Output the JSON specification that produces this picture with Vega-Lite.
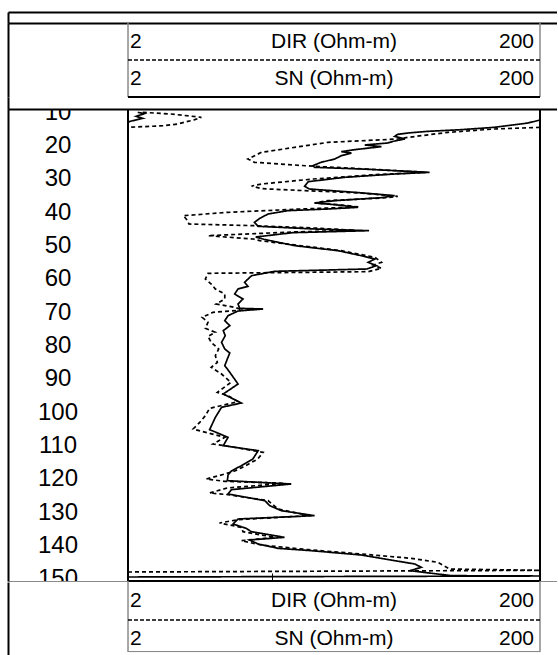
{
  "$schema": "https://vega.github.io/schema/vega-lite/v6.json",
  "padding": {"left": 8, "top": 12, "right": 0, "bottom": 0},
  "spacing": 0,
  "bounds": "flush",
  "config": {
    "view": {"stroke": null},
    "font": "Liberation Sans",
    "concat": {"spacing": 0},
    "point": {"size": 0, "opacity": 0},
    "axis": {"labels": false, "ticks": false, "grid": false, "domainColor": "black", "domainWidth": 2, "minExtent": 0, "maxExtent": 0}
  },
  "datasets": {
    "hdr": [
      {"curve": "DIR", "title": "DIR (Ohm-m)", "min": 2, "max": 200},
      {"curve": "SN", "title": "SN (Ohm-m)", "min": 2, "max": 200}
    ],
    "depths": [
      {"depth": 10}, {"depth": 20}, {"depth": 30}, {"depth": 40}, {"depth": 50},
      {"depth": 60}, {"depth": 70}, {"depth": 80}, {"depth": 90}, {"depth": 100},
      {"depth": 110}, {"depth": 120}, {"depth": 130}, {"depth": 140}, {"depth": 150}
    ],
    "logs": [
      {"curve": "DIR", "seg": "DIR-a", "depth": 9.9, "res": 2.23},
      {"curve": "DIR", "seg": "DIR-a", "depth": 10.3, "res": 2.4},
      {"curve": "DIR", "seg": "DIR-a", "depth": 11.1, "res": 2.19},
      {"curve": "DIR", "seg": "DIR-a", "depth": 11.7, "res": 2.36},
      {"curve": "DIR", "seg": "DIR-a", "depth": 12.5, "res": 2.08},
      {"curve": "DIR", "seg": "DIR-a", "depth": 12.8, "res": 1.82},
      {"curve": "DIR", "seg": "DIR-b", "depth": 12.2, "res": 219},
      {"curve": "DIR", "seg": "DIR-b", "depth": 13.1, "res": 175},
      {"curve": "DIR", "seg": "DIR-b", "depth": 14.4, "res": 120},
      {"curve": "DIR", "seg": "DIR-b", "depth": 15.1, "res": 83},
      {"curve": "DIR", "seg": "DIR-b", "depth": 15.6, "res": 57},
      {"curve": "DIR", "seg": "DIR-b", "depth": 16.1, "res": 45.8},
      {"curve": "DIR", "seg": "DIR-b", "depth": 16.5, "res": 40.8},
      {"curve": "DIR", "seg": "DIR-b", "depth": 17.1, "res": 39.4},
      {"curve": "DIR", "seg": "DIR-b", "depth": 17.9, "res": 44.2},
      {"curve": "DIR", "seg": "DIR-b", "depth": 18.5, "res": 39.4},
      {"curve": "DIR", "seg": "DIR-b", "depth": 19.1, "res": 36.4},
      {"curve": "DIR", "seg": "DIR-b", "depth": 19.7, "res": 28.2},
      {"curve": "DIR", "seg": "DIR-b", "depth": 20.2, "res": 34},
      {"curve": "DIR", "seg": "DIR-b", "depth": 21.1, "res": 25.2},
      {"curve": "DIR", "seg": "DIR-b", "depth": 21.7, "res": 21.7},
      {"curve": "DIR", "seg": "DIR-b", "depth": 22.1, "res": 24.3},
      {"curve": "DIR", "seg": "DIR-b", "depth": 22.9, "res": 21.7},
      {"curve": "DIR", "seg": "DIR-b", "depth": 23.9, "res": 20.2},
      {"curve": "DIR", "seg": "DIR-b", "depth": 24.9, "res": 17.3},
      {"curve": "DIR", "seg": "DIR-b", "depth": 25.9, "res": 15.8},
      {"curve": "DIR", "seg": "DIR-b", "depth": 26.4, "res": 16.1},
      {"curve": "DIR", "seg": "DIR-b", "depth": 26.9, "res": 27.1},
      {"curve": "DIR", "seg": "DIR-b", "depth": 27.9, "res": 58.2},
      {"curve": "DIR", "seg": "DIR-b", "depth": 28.4, "res": 39.4},
      {"curve": "DIR", "seg": "DIR-b", "depth": 29.4, "res": 22.5},
      {"curve": "DIR", "seg": "DIR-b", "depth": 30.7, "res": 15},
      {"curve": "DIR", "seg": "DIR-b", "depth": 32.1, "res": 14.4},
      {"curve": "DIR", "seg": "DIR-b", "depth": 32.9, "res": 15.2},
      {"curve": "DIR", "seg": "DIR-b", "depth": 33.9, "res": 25.2},
      {"curve": "DIR", "seg": "DIR-b", "depth": 34.9, "res": 39.4},
      {"curve": "DIR", "seg": "DIR-b", "depth": 35.5, "res": 34},
      {"curve": "DIR", "seg": "DIR-b", "depth": 36.4, "res": 20.2},
      {"curve": "DIR", "seg": "DIR-b", "depth": 37.1, "res": 16.1},
      {"curve": "DIR", "seg": "DIR-b", "depth": 37.6, "res": 20.2},
      {"curve": "DIR", "seg": "DIR-b", "depth": 38.4, "res": 26.1},
      {"curve": "DIR", "seg": "DIR-b", "depth": 38.9, "res": 18.7},
      {"curve": "DIR", "seg": "DIR-b", "depth": 39.4, "res": 11.9},
      {"curve": "DIR", "seg": "DIR-b", "depth": 40.4, "res": 9.57},
      {"curve": "DIR", "seg": "DIR-b", "depth": 41.7, "res": 8.73},
      {"curve": "DIR", "seg": "DIR-b", "depth": 42.9, "res": 8.22},
      {"curve": "DIR", "seg": "DIR-b", "depth": 44.1, "res": 8.57},
      {"curve": "DIR", "seg": "DIR-b", "depth": 44.9, "res": 16.1},
      {"curve": "DIR", "seg": "DIR-b", "depth": 45.4, "res": 29.6},
      {"curve": "DIR", "seg": "DIR-b", "depth": 46.0, "res": 12.6},
      {"curve": "DIR", "seg": "DIR-b", "depth": 47.3, "res": 8.34},
      {"curve": "DIR", "seg": "DIR-b", "depth": 48.0, "res": 9.14},
      {"curve": "DIR", "seg": "DIR-b", "depth": 49.9, "res": 12.9},
      {"curve": "DIR", "seg": "DIR-b", "depth": 51.4, "res": 20.9},
      {"curve": "DIR", "seg": "DIR-b", "depth": 52.9, "res": 27.1},
      {"curve": "DIR", "seg": "DIR-b", "depth": 53.9, "res": 31.6},
      {"curve": "DIR", "seg": "DIR-b", "depth": 54.9, "res": 29.3},
      {"curve": "DIR", "seg": "DIR-b", "depth": 55.9, "res": 32.1},
      {"curve": "DIR", "seg": "DIR-b", "depth": 56.9, "res": 28.9},
      {"curve": "DIR", "seg": "DIR-b", "depth": 57.6, "res": 10.3},
      {"curve": "DIR", "seg": "DIR-b", "depth": 58.9, "res": 7.96},
      {"curve": "DIR", "seg": "DIR-b", "depth": 60.9, "res": 7.36},
      {"curve": "DIR", "seg": "DIR-b", "depth": 62.1, "res": 7.64},
      {"curve": "DIR", "seg": "DIR-b", "depth": 62.9, "res": 6.84},
      {"curve": "DIR", "seg": "DIR-b", "depth": 64.4, "res": 6.59},
      {"curve": "DIR", "seg": "DIR-b", "depth": 65.9, "res": 7.23},
      {"curve": "DIR", "seg": "DIR-b", "depth": 67.4, "res": 6.84},
      {"curve": "DIR", "seg": "DIR-b", "depth": 68.7, "res": 6.97},
      {"curve": "DIR", "seg": "DIR-b", "depth": 68.9, "res": 9.06},
      {"curve": "DIR", "seg": "DIR-b", "depth": 69.5, "res": 6.84},
      {"curve": "DIR", "seg": "DIR-b", "depth": 70.9, "res": 6.12},
      {"curve": "DIR", "seg": "DIR-b", "depth": 72.4, "res": 5.9},
      {"curve": "DIR", "seg": "DIR-b", "depth": 73.9, "res": 6.24},
      {"curve": "DIR", "seg": "DIR-b", "depth": 75.4, "res": 5.8},
      {"curve": "DIR", "seg": "DIR-b", "depth": 76.9, "res": 5.93},
      {"curve": "DIR", "seg": "DIR-b", "depth": 78.9, "res": 5.69},
      {"curve": "DIR", "seg": "DIR-b", "depth": 80.9, "res": 5.9},
      {"curve": "DIR", "seg": "DIR-b", "depth": 82.1, "res": 6.24},
      {"curve": "DIR", "seg": "DIR-b", "depth": 83.9, "res": 6.07},
      {"curve": "DIR", "seg": "DIR-b", "depth": 85.9, "res": 5.9},
      {"curve": "DIR", "seg": "DIR-b", "depth": 87.9, "res": 6.24},
      {"curve": "DIR", "seg": "DIR-b", "depth": 91.4, "res": 6.84},
      {"curve": "DIR", "seg": "DIR-b", "depth": 94.4, "res": 5.8},
      {"curve": "DIR", "seg": "DIR-b", "depth": 97.1, "res": 7.1},
      {"curve": "DIR", "seg": "DIR-b", "depth": 98.4, "res": 5.69},
      {"curve": "DIR", "seg": "DIR-b", "depth": 101.4, "res": 5.31},
      {"curve": "DIR", "seg": "DIR-b", "depth": 105.1, "res": 4.98},
      {"curve": "DIR", "seg": "DIR-b", "depth": 107.4, "res": 6.12},
      {"curve": "DIR", "seg": "DIR-b", "depth": 109.9, "res": 5.8},
      {"curve": "DIR", "seg": "DIR-b", "depth": 111.4, "res": 8.57},
      {"curve": "DIR", "seg": "DIR-b", "depth": 113.9, "res": 8.07},
      {"curve": "DIR", "seg": "DIR-b", "depth": 115.9, "res": 7.1},
      {"curve": "DIR", "seg": "DIR-b", "depth": 117.5, "res": 6.35},
      {"curve": "DIR", "seg": "DIR-b", "depth": 118.7, "res": 6.12},
      {"curve": "DIR", "seg": "DIR-b", "depth": 120.4, "res": 6.07},
      {"curve": "DIR", "seg": "DIR-b", "depth": 121.4, "res": 12.4},
      {"curve": "DIR", "seg": "DIR-b", "depth": 123.1, "res": 6.35},
      {"curve": "DIR", "seg": "DIR-b", "depth": 124.4, "res": 6.12},
      {"curve": "DIR", "seg": "DIR-b", "depth": 126.4, "res": 9.23},
      {"curve": "DIR", "seg": "DIR-b", "depth": 127.9, "res": 9.75},
      {"curve": "DIR", "seg": "DIR-b", "depth": 129.4, "res": 11.1},
      {"curve": "DIR", "seg": "DIR-b", "depth": 130.9, "res": 16.1},
      {"curve": "DIR", "seg": "DIR-b", "depth": 131.9, "res": 6.84},
      {"curve": "DIR", "seg": "DIR-b", "depth": 133.4, "res": 6.47},
      {"curve": "DIR", "seg": "DIR-b", "depth": 134.7, "res": 7.5},
      {"curve": "DIR", "seg": "DIR-b", "depth": 135.7, "res": 7.93},
      {"curve": "DIR", "seg": "DIR-b", "depth": 137.4, "res": 11.5},
      {"curve": "DIR", "seg": "DIR-b", "depth": 138.2, "res": 7.78},
      {"curve": "DIR", "seg": "DIR-b", "depth": 139.4, "res": 8.57},
      {"curve": "DIR", "seg": "DIR-b", "depth": 140.7, "res": 10.7},
      {"curve": "DIR", "seg": "DIR-b", "depth": 141.4, "res": 15.5},
      {"curve": "DIR", "seg": "DIR-b", "depth": 142.7, "res": 27.1},
      {"curve": "DIR", "seg": "DIR-b", "depth": 145.4, "res": 49.3},
      {"curve": "DIR", "seg": "DIR-b", "depth": 146.4, "res": 53.1},
      {"curve": "DIR", "seg": "DIR-b", "depth": 147.4, "res": 46.7},
      {"curve": "DIR", "seg": "DIR-b", "depth": 148.9, "res": 74.3},
      {"curve": "DIR", "seg": "DIR-b", "depth": 149.0, "res": 219},
      {"curve": "DIR", "seg": "DIR-b", "depth": 149.3, "res": 1.82},
      {"curve": "SN", "seg": "SN-a", "depth": 9.9, "res": 2.36},
      {"curve": "SN", "seg": "SN-a", "depth": 10.4, "res": 3.24},
      {"curve": "SN", "seg": "SN-a", "depth": 11.4, "res": 4.54},
      {"curve": "SN", "seg": "SN-a", "depth": 12.1, "res": 4.22},
      {"curve": "SN", "seg": "SN-a", "depth": 13.4, "res": 3.48},
      {"curve": "SN", "seg": "SN-a", "depth": 13.9, "res": 3.01},
      {"curve": "SN", "seg": "SN-a", "depth": 14.4, "res": 1.82},
      {"curve": "SN", "seg": "SN-b", "depth": 14.4, "res": 219},
      {"curve": "SN", "seg": "SN-b", "depth": 14.9, "res": 120},
      {"curve": "SN", "seg": "SN-b", "depth": 15.9, "res": 71.6},
      {"curve": "SN", "seg": "SN-b", "depth": 17.4, "res": 45.8},
      {"curve": "SN", "seg": "SN-b", "depth": 17.9, "res": 40.8},
      {"curve": "SN", "seg": "SN-b", "depth": 18.9, "res": 18.7},
      {"curve": "SN", "seg": "SN-b", "depth": 21.9, "res": 8.89},
      {"curve": "SN", "seg": "SN-b", "depth": 23.9, "res": 7.64},
      {"curve": "SN", "seg": "SN-b", "depth": 24.9, "res": 8.22},
      {"curve": "SN", "seg": "SN-b", "depth": 26.1, "res": 16.1},
      {"curve": "SN", "seg": "SN-b", "depth": 26.9, "res": 28.9},
      {"curve": "SN", "seg": "SN-b", "depth": 27.9, "res": 55.1},
      {"curve": "SN", "seg": "SN-b", "depth": 28.6, "res": 31.7},
      {"curve": "SN", "seg": "SN-b", "depth": 29.9, "res": 15.9},
      {"curve": "SN", "seg": "SN-b", "depth": 31.4, "res": 8.89},
      {"curve": "SN", "seg": "SN-b", "depth": 32.0, "res": 7.96},
      {"curve": "SN", "seg": "SN-b", "depth": 32.8, "res": 8.89},
      {"curve": "SN", "seg": "SN-b", "depth": 33.4, "res": 14.5},
      {"curve": "SN", "seg": "SN-b", "depth": 34.1, "res": 27.1},
      {"curve": "SN", "seg": "SN-b", "depth": 35.1, "res": 40.8},
      {"curve": "SN", "seg": "SN-b", "depth": 35.5, "res": 36.6},
      {"curve": "SN", "seg": "SN-b", "depth": 36.4, "res": 18.7},
      {"curve": "SN", "seg": "SN-b", "depth": 37.1, "res": 16.1},
      {"curve": "SN", "seg": "SN-b", "depth": 37.7, "res": 21.7},
      {"curve": "SN", "seg": "SN-b", "depth": 38.3, "res": 26.4},
      {"curve": "SN", "seg": "SN-b", "depth": 38.9, "res": 13.8},
      {"curve": "SN", "seg": "SN-b", "depth": 39.9, "res": 6.12},
      {"curve": "SN", "seg": "SN-b", "depth": 40.9, "res": 3.71},
      {"curve": "SN", "seg": "SN-b", "depth": 42.4, "res": 3.9},
      {"curve": "SN", "seg": "SN-b", "depth": 43.4, "res": 3.95},
      {"curve": "SN", "seg": "SN-b", "depth": 43.9, "res": 8.1},
      {"curve": "SN", "seg": "SN-b", "depth": 44.6, "res": 15.9},
      {"curve": "SN", "seg": "SN-b", "depth": 45.3, "res": 25.2},
      {"curve": "SN", "seg": "SN-b", "depth": 45.8, "res": 12.6},
      {"curve": "SN", "seg": "SN-b", "depth": 46.9, "res": 4.89},
      {"curve": "SN", "seg": "SN-b", "depth": 47.9, "res": 8.12},
      {"curve": "SN", "seg": "SN-b", "depth": 48.4, "res": 8.73},
      {"curve": "SN", "seg": "SN-b", "depth": 51.4, "res": 21.7},
      {"curve": "SN", "seg": "SN-b", "depth": 53.4, "res": 31.6},
      {"curve": "SN", "seg": "SN-b", "depth": 54.9, "res": 34},
      {"curve": "SN", "seg": "SN-b", "depth": 55.7, "res": 31},
      {"curve": "SN", "seg": "SN-b", "depth": 56.7, "res": 34},
      {"curve": "SN", "seg": "SN-b", "depth": 57.7, "res": 29.3},
      {"curve": "SN", "seg": "SN-b", "depth": 58.2, "res": 4.89},
      {"curve": "SN", "seg": "SN-b", "depth": 59.9, "res": 4.75},
      {"curve": "SN", "seg": "SN-b", "depth": 61.4, "res": 5.07},
      {"curve": "SN", "seg": "SN-b", "depth": 62.9, "res": 5.31},
      {"curve": "SN", "seg": "SN-b", "depth": 64.4, "res": 5.9},
      {"curve": "SN", "seg": "SN-b", "depth": 65.9, "res": 5.9},
      {"curve": "SN", "seg": "SN-b", "depth": 67.4, "res": 5.36},
      {"curve": "SN", "seg": "SN-b", "depth": 68.4, "res": 6.59},
      {"curve": "SN", "seg": "SN-b", "depth": 69.2, "res": 7.23},
      {"curve": "SN", "seg": "SN-b", "depth": 69.9, "res": 5.17},
      {"curve": "SN", "seg": "SN-b", "depth": 71.4, "res": 4.58},
      {"curve": "SN", "seg": "SN-b", "depth": 72.9, "res": 4.89},
      {"curve": "SN", "seg": "SN-b", "depth": 74.7, "res": 4.75},
      {"curve": "SN", "seg": "SN-b", "depth": 75.9, "res": 5.31},
      {"curve": "SN", "seg": "SN-b", "depth": 77.1, "res": 4.89},
      {"curve": "SN", "seg": "SN-b", "depth": 78.9, "res": 5.07},
      {"curve": "SN", "seg": "SN-b", "depth": 80.9, "res": 5.51},
      {"curve": "SN", "seg": "SN-b", "depth": 82.9, "res": 5.31},
      {"curve": "SN", "seg": "SN-b", "depth": 84.9, "res": 5.43},
      {"curve": "SN", "seg": "SN-b", "depth": 86.4, "res": 5.07},
      {"curve": "SN", "seg": "SN-b", "depth": 88.4, "res": 5.69},
      {"curve": "SN", "seg": "SN-b", "depth": 90.9, "res": 6.32},
      {"curve": "SN", "seg": "SN-b", "depth": 93.9, "res": 5.43},
      {"curve": "SN", "seg": "SN-b", "depth": 94.9, "res": 6.12},
      {"curve": "SN", "seg": "SN-b", "depth": 96.7, "res": 6.84},
      {"curve": "SN", "seg": "SN-b", "depth": 98.7, "res": 4.98},
      {"curve": "SN", "seg": "SN-b", "depth": 100.9, "res": 4.75},
      {"curve": "SN", "seg": "SN-b", "depth": 102.9, "res": 4.46},
      {"curve": "SN", "seg": "SN-b", "depth": 104.9, "res": 4.14},
      {"curve": "SN", "seg": "SN-b", "depth": 106.1, "res": 4.89},
      {"curve": "SN", "seg": "SN-b", "depth": 107.4, "res": 5.9},
      {"curve": "SN", "seg": "SN-b", "depth": 109.4, "res": 5.17},
      {"curve": "SN", "seg": "SN-b", "depth": 109.9, "res": 5.9},
      {"curve": "SN", "seg": "SN-b", "depth": 111.9, "res": 9.06},
      {"curve": "SN", "seg": "SN-b", "depth": 113.9, "res": 8.53},
      {"curve": "SN", "seg": "SN-b", "depth": 116.1, "res": 7.36},
      {"curve": "SN", "seg": "SN-b", "depth": 117.5, "res": 6.59},
      {"curve": "SN", "seg": "SN-b", "depth": 118.4, "res": 5.9},
      {"curve": "SN", "seg": "SN-b", "depth": 119.9, "res": 4.8},
      {"curve": "SN", "seg": "SN-b", "depth": 120.6, "res": 5.9},
      {"curve": "SN", "seg": "SN-b", "depth": 121.2, "res": 11.5},
      {"curve": "SN", "seg": "SN-b", "depth": 122.6, "res": 6.05},
      {"curve": "SN", "seg": "SN-b", "depth": 124.1, "res": 4.98},
      {"curve": "SN", "seg": "SN-b", "depth": 124.6, "res": 6.12},
      {"curve": "SN", "seg": "SN-b", "depth": 126.4, "res": 9.57},
      {"curve": "SN", "seg": "SN-b", "depth": 128.9, "res": 10.7},
      {"curve": "SN", "seg": "SN-b", "depth": 130.4, "res": 13.9},
      {"curve": "SN", "seg": "SN-b", "depth": 130.9, "res": 15.2},
      {"curve": "SN", "seg": "SN-b", "depth": 132.1, "res": 6.84},
      {"curve": "SN", "seg": "SN-b", "depth": 133.1, "res": 5.56},
      {"curve": "SN", "seg": "SN-b", "depth": 134.4, "res": 7.1},
      {"curve": "SN", "seg": "SN-b", "depth": 135.7, "res": 7.23},
      {"curve": "SN", "seg": "SN-b", "depth": 137.4, "res": 10.3},
      {"curve": "SN", "seg": "SN-b", "depth": 138.4, "res": 7.1},
      {"curve": "SN", "seg": "SN-b", "depth": 139.7, "res": 8.85},
      {"curve": "SN", "seg": "SN-b", "depth": 141.1, "res": 15},
      {"curve": "SN", "seg": "SN-b", "depth": 142.4, "res": 27.1},
      {"curve": "SN", "seg": "SN-b", "depth": 143.7, "res": 47.5},
      {"curve": "SN", "seg": "SN-b", "depth": 144.9, "res": 63.8},
      {"curve": "SN", "seg": "SN-b", "depth": 146.9, "res": 72.9},
      {"curve": "SN", "seg": "SN-b", "depth": 147.3, "res": 219},
      {"curve": "SN", "seg": "SN-b", "depth": 147.8, "res": 1.82}
    ]
  },
  "vconcat": [
    {
      "width": 549, "height": 11,
      "data": {"values": [{}]},
      "layer": [
        {"mark": {"type": "point"},
         "encoding": {
           "x": {"datum": 0.5, "type": "quantitative", "scale": {"domain": [0, 1]}, "axis": {"orient": "top", "title": null}},
           "y": {"datum": 0.5, "type": "quantitative", "scale": {"domain": [0, 1]}, "axis": {"orient": "left", "title": null}}
         }},
        {"mark": {"type": "point"},
         "encoding": {
           "x": {"datum": 0.5, "type": "quantitative", "axis": {"orient": "bottom", "title": null}}
         }}
      ],
      "resolve": {"axis": {"x": "independent"}}
    },
    {
      "width": 549, "height": 74,
      "data": {"name": "hdr"},
      "layer": [
        {"mark": {"type": "rule", "color": "#8a8a8a", "strokeWidth": 1},
         "encoding": {"x": {"datum": 2, "type": "quantitative", "scale": {"type": "log", "domain": [2, 200], "range": [120, 532], "clamp": true, "nice": false}, "axis": null}}},
        {"mark": {"type": "rule", "color": "#8a8a8a", "strokeWidth": 1},
         "encoding": {"x": {"datum": 200, "type": "quantitative", "axis": null}}},
        {"mark": {"type": "rule", "color": "black", "strokeWidth": 1, "strokeDash": [4, 2]},
         "encoding": {
           "x": {"datum": 2, "type": "quantitative", "axis": null},
           "x2": {"datum": 200},
           "y": {"datum": "SN", "type": "nominal", "bandPosition": 0, "scale": {"type": "band", "domain": ["DIR", "SN"], "paddingInner": 0, "paddingOuter": 0}, "axis": {"orient": "left", "title": null}}
         }},
        {"mark": {"type": "rule", "color": "black", "strokeWidth": 2},
         "encoding": {
           "x": {"datum": 2, "type": "quantitative", "axis": null},
           "x2": {"datum": 200},
           "y": {"datum": "SN", "type": "nominal", "bandPosition": 1, "axis": {"orient": "left", "title": null}}
         }},
        {"mark": {"type": "text", "align": "left", "baseline": "middle", "fontSize": 21, "dx": 2, "color": "black"},
         "encoding": {
           "x": {"field": "min", "type": "quantitative", "axis": null},
           "y": {"field": "curve", "type": "nominal", "axis": {"orient": "left", "title": null}},
           "text": {"field": "min", "type": "quantitative"}
         }},
        {"mark": {"type": "text", "align": "right", "baseline": "middle", "fontSize": 21, "dx": -6, "color": "black"},
         "encoding": {
           "x": {"field": "max", "type": "quantitative", "axis": null},
           "y": {"field": "curve", "type": "nominal", "axis": {"orient": "left", "title": null}},
           "text": {"field": "max", "type": "quantitative"}
         }},
        {"mark": {"type": "text", "align": "center", "baseline": "middle", "fontSize": 21, "color": "black"},
         "encoding": {
           "x": {"datum": 20, "type": "quantitative", "axis": null},
           "y": {"field": "curve", "type": "nominal", "axis": {"orient": "left", "title": null}},
           "text": {"field": "title", "type": "nominal"}
         }}
      ]
    },
    {
      "width": 549, "height": 12,
      "data": {"values": [{}]},
      "mark": {"type": "point"},
      "encoding": {
        "x": {"datum": 0.5, "type": "quantitative", "scale": {"domain": [0, 1]}, "axis": {"orient": "bottom", "title": null}},
        "y": {"datum": 0.5, "type": "quantitative", "scale": {"domain": [0, 1]}, "axis": {"orient": "left", "title": null}}
      }
    },
    {
      "width": 549, "height": 472,
      "layer": [
        {
          "data": {"name": "depths"},
          "mark": {"type": "text", "clip": true, "fontSize": 24, "baseline": "middle", "align": "center", "color": "black"},
          "encoding": {
            "x": {"datum": "depth", "type": "nominal", "scale": {"type": "band", "domain": ["depth"], "range": [0, 100], "paddingInner": 0, "paddingOuter": 0}, "axis": null},
            "y": {"field": "depth", "type": "quantitative", "scale": {"domain": [8.9, 150.5], "reverse": true, "nice": false, "zero": false}, "axis": {"orient": "left", "title": null}},
            "text": {"field": "depth", "type": "quantitative"}
          }
        },
        {
          "data": {"values": [{}]},
          "mark": {"type": "point"},
          "encoding": {
            "x": {"datum": 0.5, "type": "quantitative", "scale": {"domain": [0, 1]}, "axis": {"orient": "bottom", "title": null, "domainColor": "#8a8a8a", "domainWidth": 1}},
            "y": {"datum": 80, "type": "quantitative", "axis": {"orient": "left", "title": null}}
          }
        },
        {
          "layer": [
            {
              "data": {"name": "logs"},
              "mark": {"type": "line", "clip": true, "color": "black", "strokeWidth": 1.7},
              "encoding": {
                "x": {"field": "res", "type": "quantitative", "scale": {"type": "log", "domain": [2, 200], "range": [120, 532], "clamp": true, "nice": false}, "axis": {"orient": "bottom", "values": [10], "domain": false, "ticks": true, "tickSize": -8, "tickColor": "black", "tickWidth": 1, "title": null}},
                "y": {"field": "depth", "type": "quantitative", "axis": {"orient": "left", "title": null}},
                "detail": {"field": "seg", "type": "nominal"},
                "order": {"field": "depth", "type": "quantitative"},
                "strokeDash": {"field": "curve", "type": "nominal", "scale": {"domain": ["DIR", "SN"], "range": [[1, 0], [4, 3]]}, "legend": null}
              }
            },
            {
              "data": {"values": [{}]},
              "mark": {"type": "rule", "color": "black", "strokeWidth": 2},
              "encoding": {"x": {"datum": 2, "type": "quantitative", "axis": {"orient": "bottom", "values": [10], "domain": false, "ticks": true, "tickSize": -8, "tickColor": "black", "tickWidth": 1, "title": null}}}
            },
            {
              "data": {"values": [{}]},
              "mark": {"type": "rule", "color": "black", "strokeWidth": 2},
              "encoding": {"x": {"datum": 200, "type": "quantitative", "axis": {"orient": "bottom", "values": [10], "domain": false, "ticks": true, "tickSize": -8, "tickColor": "black", "tickWidth": 1, "title": null}}}
            },
            {
              "data": {"values": [{}]},
              "mark": {"type": "rule", "color": "black", "strokeWidth": 2},
              "encoding": {
                "x": {"datum": 2, "type": "quantitative", "axis": {"orient": "bottom", "values": [10], "domain": false, "ticks": true, "tickSize": -8, "tickColor": "black", "tickWidth": 1, "title": null}},
                "x2": {"datum": 200},
                "y": {"datum": 150.5, "type": "quantitative", "axis": {"orient": "left", "title": null}}
              }
            }
          ]
        }
      ],
      "resolve": {"scale": {"x": "independent"}}
    },
    {
      "width": 549, "height": 71,
      "data": {"name": "hdr"},
      "layer": [
        {"mark": {"type": "rule", "color": "#8a8a8a", "strokeWidth": 1},
         "encoding": {"x": {"datum": 2, "type": "quantitative", "scale": {"type": "log", "domain": [2, 200], "range": [120, 532], "clamp": true, "nice": false}, "axis": null}}},
        {"mark": {"type": "rule", "color": "#8a8a8a", "strokeWidth": 1},
         "encoding": {"x": {"datum": 200, "type": "quantitative", "axis": null}}},
        {"mark": {"type": "rule", "color": "black", "strokeWidth": 1, "strokeDash": [4, 2]},
         "encoding": {
           "x": {"datum": 2, "type": "quantitative", "axis": null},
           "x2": {"datum": 200},
           "y": {"datum": "SN", "type": "nominal", "bandPosition": 0, "scale": {"type": "band", "domain": ["DIR", "SN"], "range": [1, 77], "paddingInner": 0, "paddingOuter": 0}, "axis": {"orient": "left", "title": null}}
         }},
        {"mark": {"type": "rule", "color": "#8a8a8a", "strokeWidth": 1},
         "encoding": {
           "x": {"datum": 2, "type": "quantitative", "axis": null},
           "x2": {"datum": 200},
           "y": {"datum": "SN", "type": "nominal", "bandPosition": 0.83, "axis": {"orient": "left", "title": null}}
         }},
        {"mark": {"type": "text", "align": "left", "baseline": "middle", "fontSize": 21, "dx": 2, "color": "black"},
         "encoding": {
           "x": {"field": "min", "type": "quantitative", "axis": null},
           "y": {"field": "curve", "type": "nominal", "axis": {"orient": "left", "title": null}},
           "text": {"field": "min", "type": "quantitative"}
         }},
        {"mark": {"type": "text", "align": "right", "baseline": "middle", "fontSize": 21, "dx": -6, "color": "black"},
         "encoding": {
           "x": {"field": "max", "type": "quantitative", "axis": null},
           "y": {"field": "curve", "type": "nominal", "axis": {"orient": "left", "title": null}},
           "text": {"field": "max", "type": "quantitative"}
         }},
        {"mark": {"type": "text", "align": "center", "baseline": "middle", "fontSize": 21, "color": "black"},
         "encoding": {
           "x": {"datum": 20, "type": "quantitative", "axis": null},
           "y": {"field": "curve", "type": "nominal", "axis": {"orient": "left", "title": null}},
           "text": {"field": "title", "type": "nominal"}
         }}
      ]
    }
  ]
}
